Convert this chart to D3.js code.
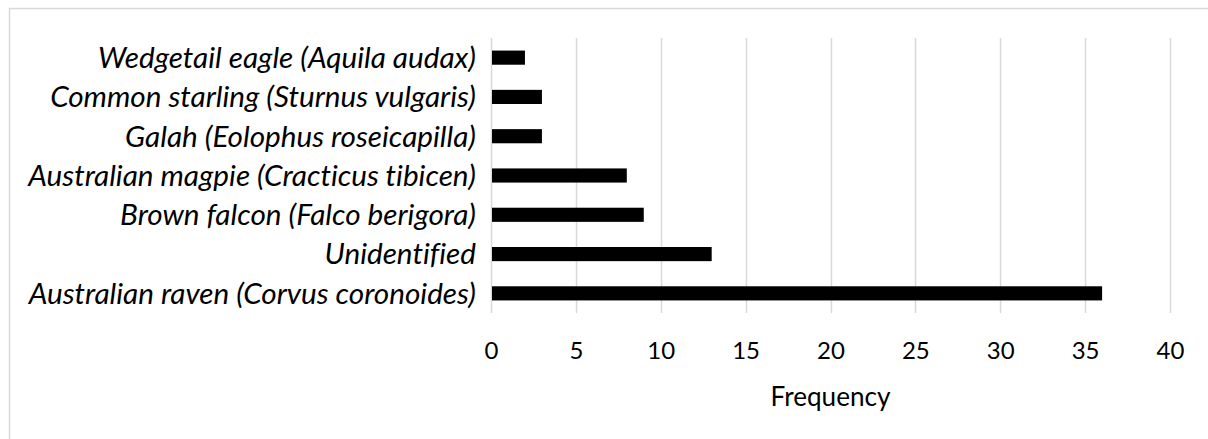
<!DOCTYPE html>
<html><head><meta charset="utf-8">
<script src="https://cdn.jsdelivr.net/npm/d3@7"></script>
<style>body{margin:0;background:#fff}svg{display:block}text{font-variant-ligatures:none;font-feature-settings:"liga" 0,"dlig" 0}</style>
</head><body>
<script>
const categories = ["Australian raven (Corvus coronoides)","Unidentified","Brown falcon (Falco berigora)","Australian magpie (Cracticus tibicen)","Galah (Eolophus roseicapilla)","Common starling (Sturnus vulgaris)","Wedgetail eagle (Aquila audax)"];
const values = [36,13,9,8,3,3,2];
const ticks = [0,5,10,15,20,25,30,35,40];
const axisTitle = "Frequency";

const W=1208,H=439;
const svg=d3.select("body").append("svg").attr("width",W).attr("height",H);
svg.append("rect").attr("x",9.5).attr("y",8.5).attr("width",1220).attr("height",460).attr("fill","#fff").attr("stroke","#d9d9d9").attr("stroke-width",1.5);

const x=d3.scaleLinear().domain([0,40]).range([491,1170]);
const y=d3.scaleBand().domain(categories.slice().reverse()).range([38,313]).paddingInner(0.64).paddingOuter(0.32);
const font="Lato, 'Open Sans', sans-serif";

// gridlines
svg.append("g").selectAll("line").data(ticks).join("line")
  .attr("x1",d=>Math.round(x(d))+0.5).attr("x2",d=>Math.round(x(d))+0.5)
  .attr("y1",38).attr("y2",313).attr("stroke","#d9d9d9").attr("stroke-width",1.5);

// bars
svg.append("g").selectAll("rect").data(categories).join("rect")
  .attr("x",x(0)+1).attr("y",d=>y(d)).attr("height",y.bandwidth())
  .attr("width",(d,i)=>x(values[i])-x(0)-1).attr("fill","#000");

// category labels
const lab=svg.append("g").selectAll("text").data(categories).join("text")
  .attr("x",476).attr("y",d=>y(d)+y.bandwidth()/2).attr("dy","0.35em")
  .attr("text-anchor","end").attr("font-family",font).attr("font-style","italic")
  .attr("font-size",22).attr("fill","#000").text(d=>d);
let mw=0; lab.each(function(){mw=Math.max(mw,this.getComputedTextLength());});
const fs=22*448/mw;
lab.attr("font-size",fs);

// tick labels
const ax=d3.axisBottom(x).tickValues(ticks).tickSize(0).tickPadding(0);
const g=svg.append("g").attr("transform","translate(0,342)").call(ax);
g.select(".domain").remove();
g.selectAll("text").attr("font-family",font).attr("font-size",24).attr("fill","#000").attr("dy","0.71em");

const t=svg.append("text").attr("x",x(20)).attr("y",397).attr("dy","0.35em").attr("text-anchor","middle")
  .attr("font-family",font).attr("font-size",24).attr("fill","#000").text(axisTitle);
const tw=t.node().getComputedTextLength();
t.attr("font-size",24*120/tw);
</script>
</body></html>
